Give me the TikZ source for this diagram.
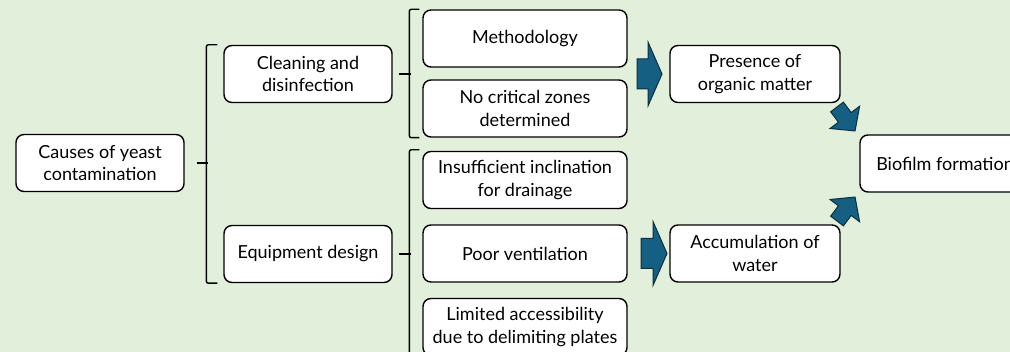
\documentclass[tikz,border=0pt]{standalone}
\usepackage{fontspec}
\setmainfont{Lato}
\usepackage{tikz}
\usetikzlibrary{calc,backgrounds}
\definecolor{bggreen}{RGB}{226,239,218}
\definecolor{arrowfill}{RGB}{21,96,130}
\definecolor{arrowline}{RGB}{10,48,65}
\newcommand{\boxline}{1.4pt}
% #1 back centre, #2 angle, #3 length, #4 head length, #5 half body, #6 half head
\newcommand{\blockarrow}[6]{\draw[fatarrow, shift={#1}, rotate=#2] (0,-#5) -- ({#3-#4},-#5) -- ({#3-#4},-#6) -- (#3,0) -- ({#3-#4},#6) -- ({#3-#4},#5) -- (0,#5) -- cycle;}
\tikzset{
  causebox/.style={draw, fill=white, rounded corners=8pt, line width=\boxline, align=center,
    minimum height=57pt, inner sep=0pt, font=\fontsize{18}{22.5}\selectfont},
  bracket/.style={line width=\boxline, rounded corners=2pt},
  fatarrow/.style={fill=arrowfill, draw=arrowline, line width=1pt, line join=miter}
}

\begin{document}
\begin{tikzpicture}[x=1pt, y=-1pt]
\useasboundingbox (0,0) rectangle (1010,352);
\fill[bggreen] (0,0) rectangle (1010,352);
%first level
\node[causebox, minimum width=168pt] (causes) at (100,163) {Causes of yeast\\contamination};
%second level
\node[causebox, minimum width=168pt] (cleaning) at (308,74) {Cleaning and\\disinfection};
\node[causebox, minimum width=168pt] (design) at (308,254) {Equipment design};
%third level
\node[causebox, minimum width=204pt] (method) at (525,38.5) {Methodology};
\node[causebox, minimum width=204pt] (zones) at (525,108.5) {No critical zones\\determined};
\node[causebox, minimum width=204pt] (incline) at (525,180) {Insufficient inclination\\for drainage};
\node[causebox, minimum width=204pt] (vent) at (525,253.5) {Poor ventilation};
\node[causebox, minimum width=204pt] (access) at (525,327) {Limited accessibility\\due to delimiting plates};
%effects
\node[causebox, minimum width=170pt] (organic) at (755,74) {Presence of\\organic matter};
\node[causebox, minimum width=170pt] (water) at (755,253.5) {Accumulation of\\water};
\node[causebox, minimum width=170pt] (biofilm) at (945,163.5) {Biofilm formation};
%brackets
\draw[bracket] ($(cleaning.north west)+(-6,0)$) -| ($(design.south west)+(-17,0)$) -- ($(design.south west)+(-6,0)$);
\draw[bracket] ($(causes.east)+(12,0)$) -- ($(causes.east)+(23,0)$);
\draw[bracket] ($(method.north west)+(-3,0)$) -| ($(zones.south west)+(-13,0)$) -- ($(zones.south west)+(-3,0)$);
\draw[bracket] ($(cleaning.east)+(6,0)$) -- ($(cleaning.east)+(18,0)$);
\draw[bracket] ($(incline.north west)+(-3,-1)$) -| ($(access.south west)+(-13,10)$);
\draw[bracket] ($(design.east)+(6,0)$) -- ($(design.east)+(18,0)$);
%arrows
\blockarrow{(637,74)}{0}{25}{14}{15}{32}
\blockarrow{(641,253.5)}{0}{26}{14}{15}{32}
\blockarrow{(837,107)}{-53}{30}{17}{8}{18.5}
\blockarrow{(837,221)}{53}{30}{17}{8}{18.5}
\end{tikzpicture}
\end{document}
